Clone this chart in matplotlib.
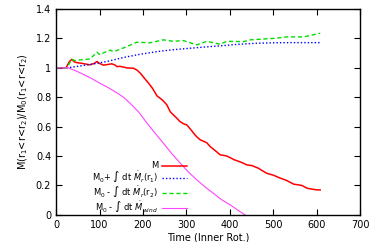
import matplotlib
matplotlib.use("Agg")
import matplotlib.pyplot as plt

plt.rcParams["font.family"] = "DejaVu Sans"
plt.rcParams["mathtext.fontset"] = "dejavusans"

# M (red)
t_m = [0, 10, 23, 30, 36, 42, 48, 60, 78, 88, 94, 100, 109, 118, 128, 135, 140,
       147, 155, 163, 178, 186, 194, 203, 213, 222, 232, 245, 255, 263, 270, 278,
       285, 293, 301, 310, 318, 324, 332, 340, 347, 355, 365, 378, 385, 393, 400,
       410, 424, 432, 439, 451, 466, 475, 485, 500, 516, 530, 547, 558, 566, 578,
       590, 600, 608]
v_m = [1.0, 1.0, 1.0, 1.04, 1.058, 1.04, 1.035, 1.03, 1.02, 1.03, 1.043, 1.03,
       1.018, 1.022, 1.027, 1.02, 1.008, 1.01, 1.005, 0.999, 0.997, 0.985, 0.963,
       0.93, 0.895, 0.86, 0.81, 0.78, 0.748, 0.70, 0.68, 0.657, 0.635, 0.62, 0.612,
       0.58, 0.55, 0.53, 0.51, 0.50, 0.49, 0.464, 0.44, 0.408, 0.405, 0.40, 0.39,
       0.375, 0.36, 0.35, 0.34, 0.335, 0.317, 0.30, 0.283, 0.27, 0.25, 0.235,
       0.209, 0.204, 0.2, 0.181, 0.175, 0.17, 0.17]

# M0 + int dt Mdot_r(r1) (blue)
t_r1 = [0, 25, 50, 94, 120, 155, 190, 232, 270, 309, 350, 385, 420, 462, 500,
        539, 570, 608]
v_r1 = [1.0, 1.0, 1.01, 1.03, 1.045, 1.07, 1.09, 1.11, 1.123, 1.133, 1.143,
        1.151, 1.16, 1.167, 1.17, 1.171, 1.171, 1.171]

# M0 - int dt Mdot_r(r2) (green)
t_r2 = [0, 25, 36, 42, 78, 94, 100, 124, 133, 163, 186, 216, 247, 270, 293,
        324, 347, 378, 393, 432, 447, 501, 531, 570, 608]
v_r2 = [1.0, 1.0, 1.058, 1.05, 1.06, 1.106, 1.09, 1.12, 1.11, 1.144, 1.174,
        1.17, 1.19, 1.18, 1.185, 1.156, 1.18, 1.16, 1.18, 1.178, 1.19, 1.2,
        1.21, 1.21, 1.235]

# M0 - int dt Mdot_wind (magenta)
t_w = [0, 28, 45, 63, 80, 101, 120, 140, 155, 170, 190, 209, 228, 247, 266,
       286, 305, 324, 343, 362, 380, 401, 418, 435]
v_w = [1.0, 1.0, 0.98, 0.955, 0.93, 0.895, 0.865, 0.83, 0.80, 0.76, 0.70,
       0.625, 0.555, 0.487, 0.418, 0.351, 0.29, 0.238, 0.19, 0.147, 0.105,
       0.068, 0.033, 0.0]

labels = [
    "M",
    r"M$_0$+ ∫ dt $\dot{M}_r$(r$_1$)",
    r"M$_0$ - ∫ dt $\dot{M}_r$(r$_2$)",
    r"M$_0$ - ∫ dt $\dot{M}_{wind}$",
]
yticks = [0, 0.2, 0.4, 0.6, 0.8, 1.0, 1.2, 1.4]
ytick_labels = ["0", "0.2", "0.4", "0.6", "0.8", "1", "1.2", "1.4"]

fig = plt.figure(figsize=(3.74, 2.42), dpi=100)
ax = fig.add_axes([0.150, 0.112, 0.813, 0.851])

ax.plot(t_m, v_m, color="#ff0000", lw=1.1, label=labels[0])
ax.plot(t_r1, v_r1, color="#0000ff", lw=1.0, ls=(0, (1, 1.5)), label=labels[1])
ax.plot(t_r2, v_r2, color="#00dd00", lw=1.0, ls=(0, (3, 2)), label=labels[2])
ax.plot(t_w, v_w, color="#ff44ff", lw=0.8, label=labels[3])

ax.set_xlim(0, 700)
ax.set_ylim(0, 1.4)
ax.set_xticks(range(0, 701, 100))
ax.set_yticks(yticks)
ax.set_yticklabels(ytick_labels)
ax.tick_params(direction="in", top=True, right=True, length=4, labelsize=7,
               width=0.8)
for s in ax.spines.values():
    s.set_linewidth(1.0)

ax.set_xlabel("Time (Inner Rot.)", fontsize=7, labelpad=2)
ax.set_ylabel(r"M(r$_1$<r<r$_2$)/M$_0$(r$_1$<r<r$_2$)", fontsize=7, labelpad=4)

ax.legend(loc="lower right", bbox_to_anchor=(0.45, -0.03), frameon=False,
          markerfirst=False, fontsize=6, handlelength=3.0, labelspacing=-0.12,
          handletextpad=0.5, borderpad=0.2)

fig.savefig("out.png", dpi=100)
